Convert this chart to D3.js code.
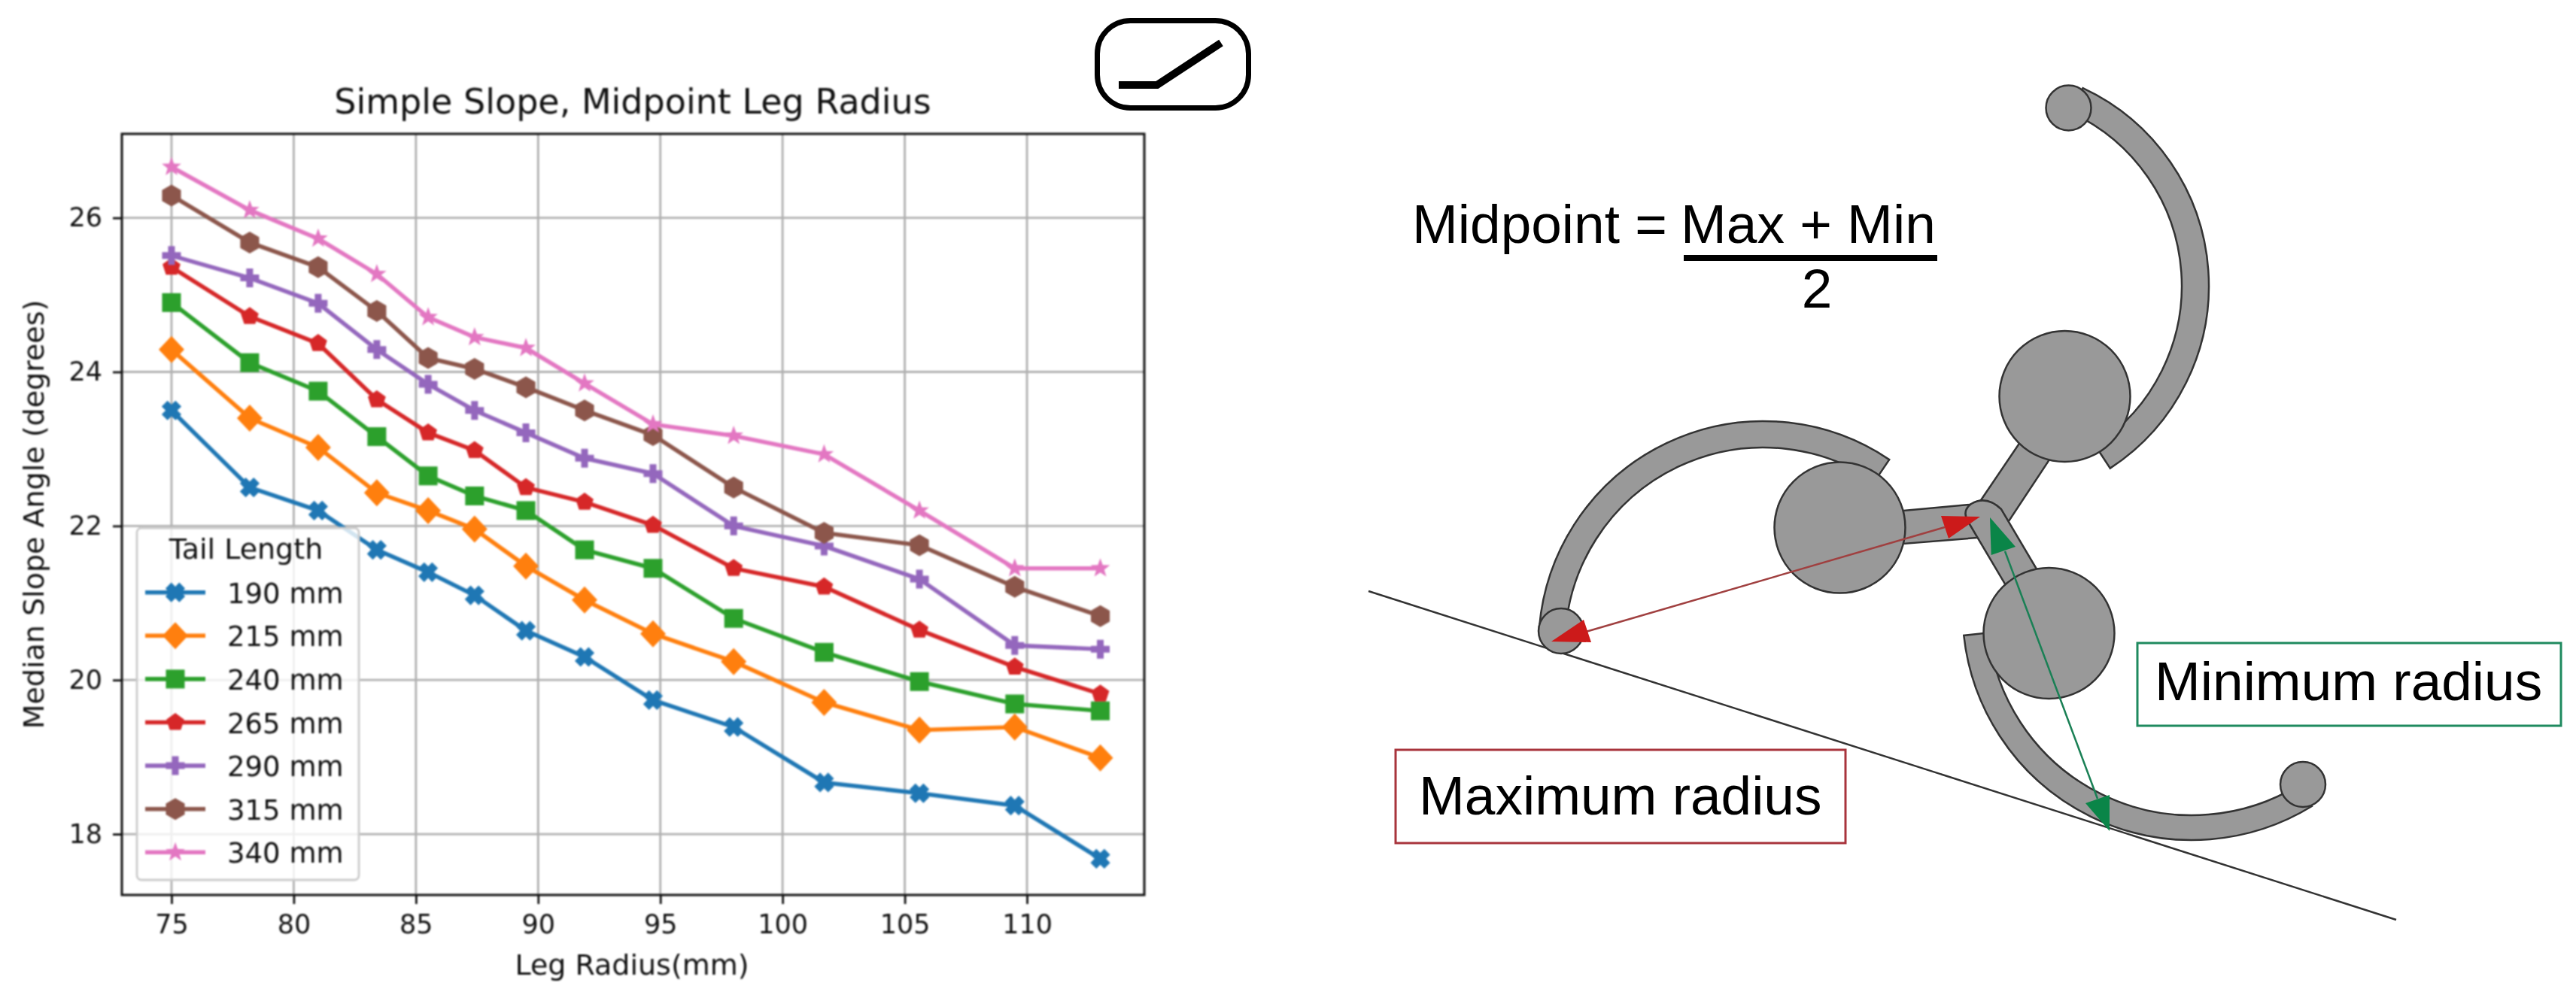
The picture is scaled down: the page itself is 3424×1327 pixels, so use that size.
<!DOCTYPE html>
<html lang="en">
<head>
  <meta charset="UTF-8">
  <title>Simple Slope, Midpoint Leg Radius</title>
  <script src="https://cdn.jsdelivr.net/npm/d3@7/dist/d3.min.js"></script>
  <style>
    html, body { margin: 0; padding: 0; background: #fff; }
    svg { display: block; }
    .chart text { font-family: "DejaVu Sans", sans-serif; fill: #111; }
    .chart { filter: blur(0.8px); }
    .sketch { filter: blur(0.5px); }
    .sketch text { font-family: "Liberation Sans", sans-serif; fill: #000; font-size: 73px; }
    .part { fill: #999; stroke: #333; stroke-width: 2.5; }
  </style>
</head>
<body>
<script>
// chart values
var legRadius = [75, 78.2, 81, 83.4, 85.5, 87.4, 89.5, 91.9, 94.7, 98, 101.7, 105.6, 109.5, 113];
var tail190 = [23.5, 22.5, 22.2, 21.69, 21.4, 21.1, 20.64, 20.3, 19.74, 19.39, 18.67, 18.53, 18.37, 17.68];
var tail215 = [24.29, 23.4, 23.02, 22.43, 22.2, 21.96, 21.48, 21.04, 20.6, 20.24, 19.71, 19.35, 19.39, 18.99];
var tail240 = [24.9, 24.12, 23.75, 23.16, 22.65, 22.39, 22.2, 21.69, 21.45, 20.8, 20.36, 19.98, 19.69, 19.6];
var tail265 = [25.36, 24.72, 24.37, 23.64, 23.21, 22.98, 22.5, 22.31, 22.01, 21.45, 21.21, 20.65, 20.17, 19.82];
var tail290 = [25.51, 25.22, 24.89, 24.29, 23.84, 23.5, 23.21, 22.88, 22.68, 22, 21.74, 21.31, 20.45, 20.4];
var tail315 = [26.29, 25.68, 25.36, 24.79, 24.18, 24.04, 23.8, 23.5, 23.18, 22.5, 21.91, 21.75, 21.21, 20.83];
var tail340 = [26.66, 26.1, 25.73, 25.27, 24.71, 24.45, 24.31, 23.85, 23.32, 23.17, 22.93, 22.2, 21.45, 21.45];
var seriesValues = [tail190, tail215, tail240, tail265, tail290, tail315, tail340];
var seriesNames = ["190 mm", "215 mm", "240 mm", "265 mm", "290 mm", "315 mm", "340 mm"];
var seriesColors = ["#1f77b4", "#ff7f0e", "#2ca02c", "#d62728", "#9467bd", "#8c564b", "#e377c2"];
var seriesMarkers = ["x", "diamond", "square", "pentagon", "plus", "hexagon", "star"];
var xTicks = [75, 80, 85, 90, 95, 100, 105, 110];
var yTicks = [18, 20, 22, 24, 26];

var svg = d3.select("body").append("svg").attr("width", 3424).attr("height", 1327);

// ---- left: the line chart ----
var box = { left: 162, right: 1521, top: 178, bottom: 1190 };
var x = d3.scaleLinear().domain([72.97, 114.8]).range([box.left, box.right]);
var y = d3.scaleLinear().domain([17.21, 27.09]).range([box.bottom, box.top]);

var chart = svg.append("g").attr("class", "chart");

// marker outlines, centred on 0,0
function ring(n, r, start) {
  return d3.range(n).map(function(i) {
    var a = start + i * 2 * Math.PI / n;
    return [r * Math.cos(a), r * Math.sin(a)];
  });
}
function plusShape(r, w) {
  return [[-w,-r],[w,-r],[w,-w],[r,-w],[r,w],[w,w],[w,r],[-w,r],[-w,w],[-r,w],[-r,-w],[-w,-w]];
}
function starShape(r, inner) {
  return d3.range(10).map(function(i) {
    var a = -Math.PI / 2 + i * Math.PI / 5, q = i % 2 ? inner : r;
    return [q * Math.cos(a), q * Math.sin(a)];
  });
}
var shapes = {
  x: plusShape(13, 5.5).map(function(p) { return [(p[0] - p[1]) * 0.7071, (p[0] + p[1]) * 0.7071]; }),
  diamond: [[0,-18],[17,0],[0,18],[-17,0]],
  square: [[-12.5,-12.5],[12.5,-12.5],[12.5,12.5],[-12.5,12.5]],
  pentagon: ring(5, 12.5, -Math.PI / 2),
  plus: plusShape(12.5, 4.5),
  hexagon: ring(6, 14.5, -Math.PI / 2),
  star: starShape(13.5, 5.5)
};
var shapePath = d3.line().curve(d3.curveLinearClosed);

// grid and axes
var xAxis = d3.axisBottom(x).tickValues(xTicks).tickSizeOuter(0).tickSizeInner(12).tickPadding(14);
var yAxis = d3.axisLeft(y).tickValues(yTicks).tickSizeOuter(0).tickSizeInner(12).tickPadding(14).tickFormat(d3.format("d"));

chart.append("g").selectAll("line").data(xTicks).join("line")
  .attr("x1", function(d) { return x(d); }).attr("x2", function(d) { return x(d); })
  .attr("y1", box.top).attr("y2", box.bottom)
  .attr("stroke", "#b0b0b0").attr("stroke-width", 2.8);
chart.append("g").selectAll("line").data(yTicks).join("line")
  .attr("y1", function(d) { return y(d); }).attr("y2", function(d) { return y(d); })
  .attr("x1", box.left).attr("x2", box.right)
  .attr("stroke", "#b0b0b0").attr("stroke-width", 2.8);

// series
var line = d3.line().x(function(d) { return x(d[0]); }).y(function(d) { return y(d[1]); });
seriesValues.forEach(function(vals, i) {
  var pts = vals.map(function(v, j) { return [legRadius[j], v]; });
  var g = chart.append("g");
  g.append("path").attr("d", line(pts)).attr("fill", "none")
    .attr("stroke", seriesColors[i]).attr("stroke-width", 5.6);
  g.selectAll("path.m").data(pts).join("path").attr("class", "m")
    .attr("transform", function(d) { return "translate(" + x(d[0]) + "," + y(d[1]) + ")"; })
    .attr("d", shapePath(shapes[seriesMarkers[i]]))
    .attr("fill", seriesColors[i]);
});

// frame
chart.append("rect").attr("x", box.left).attr("y", box.top)
  .attr("width", box.right - box.left).attr("height", box.bottom - box.top)
  .attr("fill", "none").attr("stroke", "#111").attr("stroke-width", 3);

var gx = chart.append("g").attr("transform", "translate(0," + box.bottom + ")").call(xAxis);
var gy = chart.append("g").attr("transform", "translate(" + box.left + ",0)").call(yAxis);
[gx, gy].forEach(function(a) {
  a.select(".domain").remove();
  a.selectAll("line").attr("stroke", "#111").attr("stroke-width", 2.8);
  a.selectAll("text").attr("font-family", null).style("font-size", "35px");
});

chart.append("text").attr("x", 841).attr("y", 151).attr("text-anchor", "middle")
  .style("font-size", "46px").text("Simple Slope, Midpoint Leg Radius");
chart.append("text").attr("x", 840).attr("y", 1296).attr("text-anchor", "middle")
  .style("font-size", "38px").text("Leg Radius(mm)");
chart.append("text").attr("transform", "translate(58,684) rotate(-90)").attr("text-anchor", "middle")
  .style("font-size", "38px").text("Median Slope Angle (degrees)");

// legend
var legendRows = d3.scaleLinear().domain([0, 6]).range([787.7, 1133.3]);
var legend = chart.append("g");
legend.append("rect").attr("x", 182).attr("y", 702).attr("width", 295).attr("height", 468).attr("rx", 6)
  .attr("fill", "#fff").attr("fill-opacity", 0.8).attr("stroke", "#ccc").attr("stroke-width", 2.8);
legend.append("text").attr("x", 327).attr("y", 743).attr("text-anchor", "middle")
  .style("font-size", "38px").text("Tail Length");
seriesNames.forEach(function(name, i) {
  var ry = legendRows(i);
  legend.append("line").attr("x1", 193).attr("x2", 273).attr("y1", ry).attr("y2", ry)
    .attr("stroke", seriesColors[i]).attr("stroke-width", 5.6);
  legend.append("path").attr("transform", "translate(233," + ry + ")")
    .attr("d", shapePath(shapes[seriesMarkers[i]])).attr("fill", seriesColors[i]);
  legend.append("text").attr("x", 302).attr("y", ry + 14).style("font-size", "37px").text(name);
});

// the little slope icon above the chart
var icon = svg.append("g").attr("class", "sketch");
icon.append("rect").attr("x", 1458.5).attr("y", 27.5).attr("width", 201).attr("height", 116).attr("rx", 44)
  .attr("fill", "none").attr("stroke", "#000").attr("stroke-width", 7);
icon.append("path").attr("d", "M1487,113H1538L1623,57").attr("fill", "none")
  .attr("stroke", "#000").attr("stroke-width", 10);

// ---- right: the robot leg sketch ----
var deg = Math.PI / 180;
var sketch = svg.append("g").attr("class", "sketch");

sketch.append("line").attr("x1", 1819).attr("y1", 786).attr("x2", 3185).attr("y2", 1223)
  .attr("stroke", "#333").attr("stroke-width", 2.5);

var legArc = d3.arc();
var curvedLegs = [
  { cx: 2646, cy: 380, inner: 254, outer: 290, from: 25, to: 146.8 },
  { cx: 2344, cy: 859, inner: 264, outer: 299, from: -85, to: 34 },
  { cx: 2913.5, cy: 812, inner: 272, outer: 305, from: 148.5, to: 263.8 }
];
curvedLegs.forEach(function(l) {
  sketch.append("path").attr("class", "part")
    .attr("transform", "translate(" + l.cx + "," + l.cy + ")")
    .attr("d", legArc({ innerRadius: l.inner, outerRadius: l.outer, startAngle: l.from * deg, endAngle: l.to * deg }));
});

var tips = [[2749.5, 143.5], [2075, 839], [3061, 1043]];
sketch.selectAll("circle.tip").data(tips).join("circle").attr("class", "tip part")
  .attr("cx", function(d) { return d[0]; }).attr("cy", function(d) { return d[1]; }).attr("r", 30);

// spokes from the hub
sketch.append("path").attr("class", "part").attr("d", "M2530,679L2640,669L2640,714L2530,723Z");
sketch.append("path").attr("class", "part").attr("d", "M2633,665L2700,566L2738,590L2670,693Z");
sketch.append("path").attr("class", "part").attr("d", "M2618,697Q2606,680 2620,670Q2640,658 2660,677L2712,765L2670,785Z");

var wheels = [[2744.5, 527], [2445.5, 701.6], [2723.5, 842]];
sketch.selectAll("circle.wheel").data(wheels).join("circle").attr("class", "wheel part")
  .attr("cx", function(d) { return d[0]; }).attr("cy", function(d) { return d[1]; }).attr("r", 87);

// radius arrows
sketch.append("line").attr("x1", 2108).attr("y1", 840).attr("x2", 2585).attr("y2", 701)
  .attr("stroke", "#a04040").attr("stroke-width", 2.5);
sketch.append("path").attr("d", "M2062,853L2105,824L2115,854Z").attr("fill", "#cc1a1a");
sketch.append("path").attr("d", "M2632,687L2580,686L2590,716Z").attr("fill", "#cc1a1a");
sketch.append("line").attr("x1", 2665).attr("y1", 733).attr("x2", 2788).attr("y2", 1062)
  .attr("stroke", "#1a8055").attr("stroke-width", 2.5);
sketch.append("path").attr("d", "M2645,688L2646.7,738L2679,727Z").attr("fill", "#0a8548");
sketch.append("path").attr("d", "M2804,1105L2772,1068L2804,1057Z").attr("fill", "#0a8548");

// formula
sketch.append("text").attr("x", 1877).attr("y", 323).text("Midpoint =");
sketch.append("text").attr("x", 2234).attr("y", 323).text("Max + Min");
sketch.append("rect").attr("x", 2238).attr("y", 339).attr("width", 337).attr("height", 8).attr("fill", "#000");
sketch.append("text").attr("x", 2415).attr("y", 409).attr("text-anchor", "middle").text("2");

// radius labels
sketch.append("rect").attr("x", 2841).attr("y", 855).attr("width", 563).attr("height", 110)
  .attr("fill", "#fff").attr("stroke", "#1f8a5f").attr("stroke-width", 3);
sketch.append("text").attr("x", 2864).attr("y", 931).text("Minimum radius");
sketch.append("rect").attr("x", 1855).attr("y", 997).attr("width", 598).attr("height", 124)
  .attr("fill", "#fff").attr("stroke", "#a8343c").attr("stroke-width", 3);
sketch.append("text").attr("x", 1886).attr("y", 1083).text("Maximum radius");
</script>
</body>
</html>
